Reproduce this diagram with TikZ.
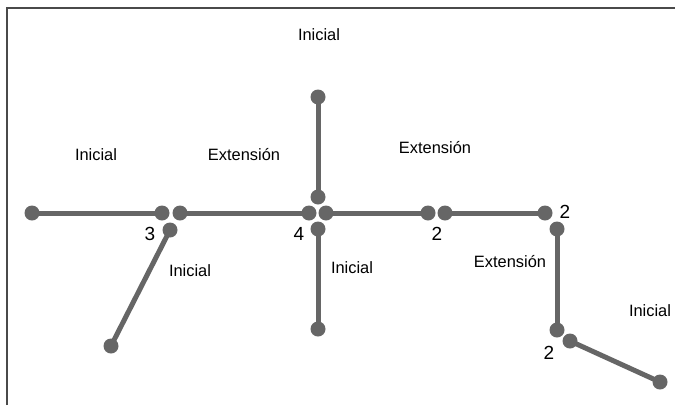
\documentclass[tikz,border=0pt]{standalone}
\usepackage{fontspec}
\setmainfont{Liberation Sans}
\definecolor{seg}{HTML}{666666}
\definecolor{frame}{HTML}{4A4A4A}
\begin{document}
\begin{tikzpicture}[x=1pt,y=-1pt,
  dot/.style={circle,fill=seg,inner sep=0pt,minimum size=15pt},
  bar/.style={draw=seg,line width=5pt},
  lbl/.style={font=\fontsize{16.4}{18}\selectfont,inner sep=0pt},
  num/.style={font=\fontsize{19}{21}\selectfont,inner sep=0pt}]
\useasboundingbox (0,0) rectangle (675,405);
\draw[frame,line width=1.6pt] (7,405) -- (7,8) -- (675,8);
% dots
\node[dot] (a1) at (32,213) {};
\node[dot] (a2) at (162,213) {};
\node[dot] (b1) at (180,213) {};
\node[dot] (b2) at (309,213) {};
\node[dot] (c1) at (170,230) {};
\node[dot] (c2) at (111,346) {};
\node[dot] (d1) at (318,97) {};
\node[dot] (d2) at (318,197) {};
\node[dot] (e1) at (326,213) {};
\node[dot] (e2) at (428,213) {};
\node[dot] (f1) at (318,229) {};
\node[dot] (f2) at (318,329) {};
\node[dot] (g1) at (445,213) {};
\node[dot] (g2) at (545,213) {};
\node[dot] (h1) at (557,229) {};
\node[dot] (h2) at (557,330) {};
\node[dot] (i1) at (570,341) {};
\node[dot] (i2) at (660,382) {};
% segments
\draw[bar] (a1.center) -- (a2.center);
\draw[bar] (b1.center) -- (b2.center);
\draw[bar] (c1.center) -- (c2.center);
\draw[bar] (d1.center) -- (d2.center);
\draw[bar] (e1.center) -- (e2.center);
\draw[bar] (f1.center) -- (f2.center);
\draw[bar] (g1.center) -- (g2.center);
\draw[bar] (h1.center) -- (h2.center);
\draw[bar] (i1.center) -- (i2.center);
% numbers
\node[num] (n3) at (150,234) {3};
\node[num] (n4) at (299,234) {4};
\node[num] (n2a) at (437,234) {2};
\node[num] (n2b) at (565,212) {2};
\node[num] (n2c) at (549,353) {2};
% labels
\node[lbl] (t1) at (319,35) {Inicial};
\node[lbl] (t2) at (96,155) {Inicial};
\node[lbl] (t3) at (244,155) {Extensión};
\node[lbl] (t4) at (435,148) {Extensión};
\node[lbl] (t5) at (190,271) {Inicial};
\node[lbl] (t6) at (352,268) {Inicial};
\node[lbl] (t7) at (510,262) {Extensión};
\node[lbl] (t8) at (650,311) {Inicial};
\end{tikzpicture}
\end{document}
